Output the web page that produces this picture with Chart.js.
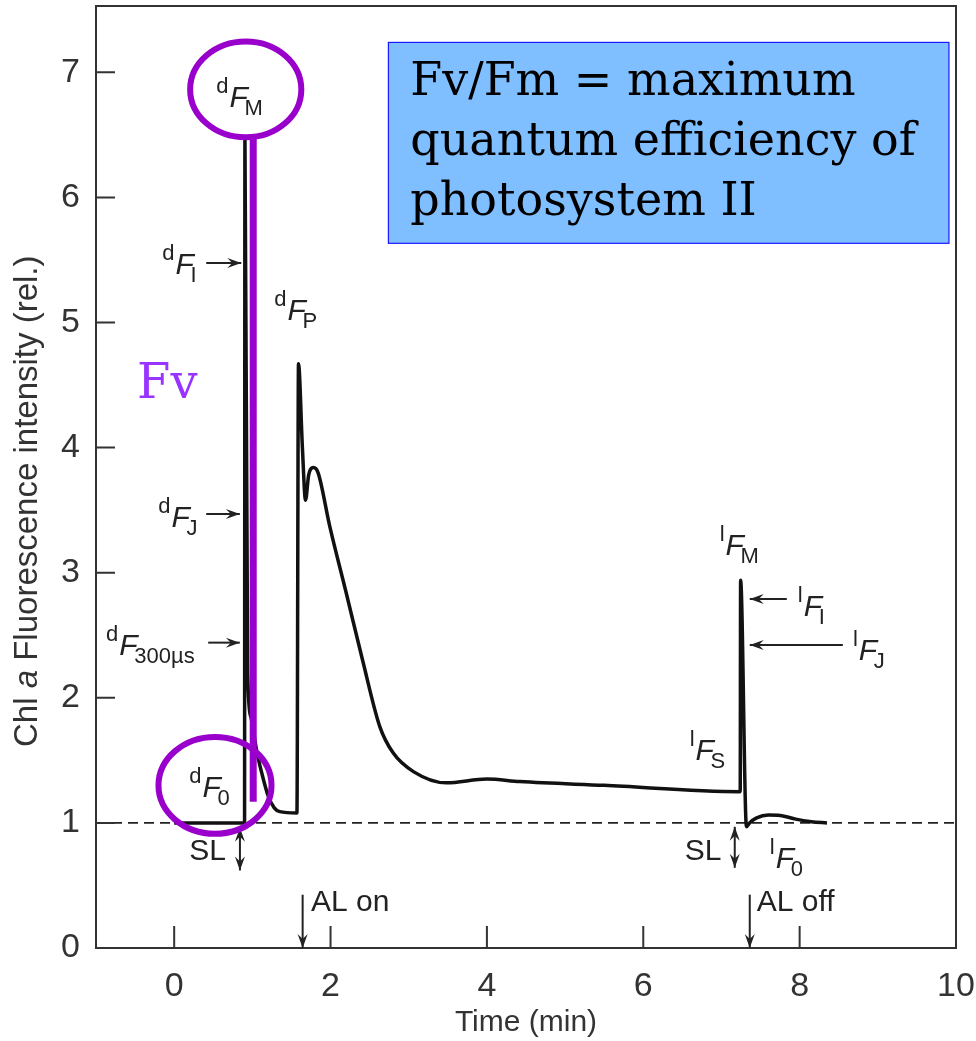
<!DOCTYPE html>
<html>
<head>
<meta charset="utf-8">
<script src="https://cdn.jsdelivr.net/npm/chart.js@4.4.1/dist/chart.umd.min.js"></script>
<style>
  html, body { margin: 0; padding: 0; background: #fff; }
  #wrap { width: 976px; height: 1041px; }
</style>
</head>
<body>
<div id="wrap"><canvas id="chart" width="976" height="1041"></canvas></div>
<script>
// --- DATA ---
const timeMin = [0, 0.90, 0.905, 0.94, 0.98, 1.06, 1.12, 1.20, 1.28, 1.35, 1.57,
  1.59, 1.64, 1.68, 1.72, 1.78, 1.84, 1.99, 2.20, 2.41, 2.63, 2.80, 3.06, 3.48,
  4.00, 4.42, 5.50, 7.24, 7.245, 7.32, 7.36, 7.45, 7.60, 7.75, 7.95, 8.15, 8.35];
const fluorRel = [1.00, 1.00, 6.48, 2.20, 1.85, 1.56, 1.40, 1.22, 1.12, 1.09, 1.08,
  4.67, 4.00, 3.58, 3.78, 3.84, 3.80, 3.37, 2.84, 2.30, 1.77, 1.56, 1.41, 1.32,
  1.35, 1.33, 1.30, 1.25, 2.94, 0.97, 1.00, 1.04, 1.063, 1.06, 1.03, 1.01, 1.00];
const baseTime = [-1, 10];
const baseLevel = [1, 1];
const xTickValues = [0, 2, 4, 6, 8, 10];
const yTickValues = [0, 1, 2, 3, 4, 5, 6, 7];

const SANS = '"Liberation Sans", Arial, sans-serif';
const SERIF = '"DejaVu Serif", serif';
const INK = '#222';
const PURPLE = '#9900cc';

function toPoints(xs, ys) {
  return xs.map((x, i) => ({ x: x, y: ys[i] }));
}

// label made of superscript + italic F + subscript
function fLabel(ctx, sup, sub, px, py) {
  ctx.fillStyle = INK;
  ctx.textAlign = 'left';
  ctx.textBaseline = 'alphabetic';
  ctx.font = '22px ' + SANS;
  ctx.fillText(sup, px, py - 14);
  const w = ctx.measureText(sup).width;
  ctx.font = 'italic 30px ' + SANS;
  ctx.fillText('F', px + w + 1, py);
  ctx.font = '22px ' + SANS;
  ctx.fillText(sub, px + w + 16, py + 8);
}

function arrow(ctx, x1, y1, x2, y2, both) {
  ctx.strokeStyle = INK;
  ctx.fillStyle = INK;
  ctx.lineWidth = 2;
  ctx.beginPath();
  ctx.moveTo(x1, y1);
  ctx.lineTo(x2, y2);
  ctx.stroke();
  const head = (ax, ay, bx, by) => {
    const a = Math.atan2(by - ay, bx - ax);
    const c = Math.cos(a), s = Math.sin(a);
    ctx.beginPath();
    ctx.moveTo(bx, by);
    ctx.lineTo(bx - 14 * c + 5 * s, by - 14 * s - 5 * c);
    ctx.lineTo(bx - 9 * c, by - 9 * s);
    ctx.lineTo(bx - 14 * c - 5 * s, by - 14 * s + 5 * c);
    ctx.closePath();
    ctx.fill();
  };
  head(x1, y1, x2, y2);
  if (both) head(x2, y2, x1, y1);
}

const decorations = {
  id: 'decorations',
  afterDraw(chart) {
    const ctx = chart.ctx;
    const area = chart.chartArea;
    const xs = chart.scales.x, ys = chart.scales.y;
    const X = v => xs.getPixelForValue(v);
    const Y = v => ys.getPixelForValue(v);
    ctx.save();

    // frame + inward ticks
    ctx.strokeStyle = '#333';
    ctx.lineWidth = 2;
    ctx.strokeRect(area.left, area.top, area.right - area.left, area.bottom - area.top);
    ctx.beginPath();
    xTickValues.forEach(v => { ctx.moveTo(X(v), area.bottom); ctx.lineTo(X(v), area.bottom - 22); });
    yTickValues.forEach(v => { ctx.moveTo(area.left, Y(v)); ctx.lineTo(area.left + 19, Y(v)); });
    ctx.stroke();

    // text labels with arrows
    fLabel(ctx, 'd', 'M', X(0.538), Y(6.72));
    fLabel(ctx, 'd', 'I', X(-0.154), Y(5.39));
    arrow(ctx, X(0.41), Y(5.476), X(0.858), Y(5.476));
    fLabel(ctx, 'd', 'J', X(-0.205), Y(3.367));
    arrow(ctx, X(0.41), Y(3.469), X(0.84), Y(3.469));
    fLabel(ctx, 'd', '300\u00b5s', X(-0.871), Y(2.343));
    arrow(ctx, X(0.435), Y(2.441), X(0.84), Y(2.441));
    fLabel(ctx, 'd', 'P', X(1.28), Y(5.02));
    fLabel(ctx, 'd', '0', X(0.192), Y(1.211));
    fLabel(ctx, 'l', 'M', X(6.978), Y(3.141));
    fLabel(ctx, 'l', 'I', X(7.977), Y(2.655));
    arrow(ctx, X(7.836), Y(2.79), X(7.362), Y(2.79));
    fLabel(ctx, 'l', 'J', X(8.681), Y(2.303));
    arrow(ctx, X(8.553), Y(2.423), X(7.362), Y(2.423));
    fLabel(ctx, 'l', 'S', X(6.594), Y(1.50));
    fLabel(ctx, 'l', '0', X(7.618), Y(0.641));

    ctx.font = '30px ' + SANS;
    ctx.fillStyle = INK;
    ctx.fillText('SL', X(0.192), Y(0.705));
    arrow(ctx, X(0.841), Y(0.961), X(0.841), Y(0.62), true);
    ctx.fillText('SL', X(6.53), Y(0.705));
    arrow(ctx, X(7.17), Y(0.969), X(7.17), Y(0.641), true);
    ctx.font = '30px ' + SANS;
    ctx.fillText('AL on', X(1.75), Y(0.292));
    arrow(ctx, X(1.643), Y(0.426), X(1.643), Y(0));
    ctx.fillText('AL off', X(7.452), Y(0.292));
    arrow(ctx, X(7.362), Y(0.426), X(7.362), Y(0));

    // purple overlay: ellipses + Fv bar
    ctx.strokeStyle = PURPLE;
    ctx.lineWidth = 6;
    ctx.beginPath();
    ctx.ellipse(X(0.915), Y(6.863), X(0.915) - X(0.204), Y(6.48) - Y(6.863), 0, 0, Math.PI * 2);
    ctx.stroke();
    ctx.beginPath();
    ctx.ellipse(X(0.522), Y(1.30), X(0.522) - X(-0.201), Y(0.913) - Y(1.30), 0, 0, Math.PI * 2);
    ctx.stroke();
    ctx.lineWidth = 7;
    ctx.beginPath();
    ctx.moveTo(X(1.011), Y(6.50));
    ctx.lineTo(X(1.011), Y(1.17));
    ctx.stroke();
    ctx.fillStyle = '#9933ff';
    ctx.font = '48px ' + SERIF;
    ctx.fillText('Fv', X(-0.474), Y(4.395));

    // info box
    const bx = X(2.74), by = Y(7.239), bw = X(9.91) - bx, bh = Y(5.633) - by;
    ctx.fillStyle = '#80bfff';
    ctx.fillRect(bx, by, bw, bh);
    ctx.strokeStyle = '#1a1aff';
    ctx.lineWidth = 1.2;
    ctx.strokeRect(bx, by, bw, bh);
    ctx.fillStyle = '#000';
    ctx.font = '46px ' + SERIF;
    ctx.fillText('Fv/Fm = maximum', X(3.02), Y(6.815));
    ctx.fillText('quantum efficiency of', X(3.02), Y(6.336));
    ctx.fillText('photosystem II', X(3.02), Y(5.856));

    // axis titles
    ctx.fillStyle = '#333';
    ctx.font = '30px ' + SANS;
    ctx.textAlign = 'center';
    ctx.fillText('Time (min)', (area.left + area.right) / 2, 1031);

    ctx.translate(37, 747);
    ctx.rotate(-Math.PI / 2);
    ctx.textAlign = 'left';
    const parts = [['Chl ', ''], ['a', 'italic '], [' Fluorescence intensity (rel.)', '']];
    let off = 0;
    parts.forEach(p => {
      ctx.font = p[1] + '33px ' + SANS;
      ctx.fillText(p[0], off, 0);
      off += ctx.measureText(p[0]).width;
    });
    ctx.restore();
  }
};

new Chart(document.getElementById('chart'), {
  type: 'line',
  data: {
    datasets: [
      {
        label: 'dark level',
        data: toPoints(baseTime, baseLevel),
        borderColor: INK,
        borderWidth: 1.7,
        borderDash: [10, 6],
        pointRadius: 0,
        order: 2
      },
      {
        label: 'Chl a fluorescence',
        data: toPoints(timeMin, fluorRel),
        borderColor: '#111',
        borderWidth: 3.5,
        pointRadius: 0,
        tension: 0,
        cubicInterpolationMode: 'monotone',
        order: 1
      }
    ]
  },
  options: {
    responsive: false,
    animation: false,
    layout: { padding: { top: 6, right: 20, left: 0, bottom: 0 } },
    plugins: { legend: { display: false }, tooltip: { enabled: false } },
    scales: {
      x: {
        type: 'linear',
        min: -1,
        max: 10,
        afterFit(s) { s.height = 93; s.paddingLeft = 0; s.paddingRight = 0; },
        afterBuildTicks(s) { s.ticks = xTickValues.map(v => ({ value: v })); },
        grid: { display: false, drawTicks: false },
        border: { display: false },
        ticks: { color: '#333', padding: 18, maxRotation: 0, font: { family: 'Liberation Sans', size: 34 } }
      },
      y: {
        type: 'linear',
        min: 0,
        max: 7.53,
        afterFit(s) { s.width = 96; s.paddingTop = 0; s.paddingBottom = 0; },
        afterBuildTicks(s) { s.ticks = yTickValues.map(v => ({ value: v })); },
        grid: { display: false, drawTicks: false },
        border: { display: false },
        ticks: { color: '#333', padding: 16, font: { family: 'Liberation Sans', size: 34 } }
      }
    }
  },
  plugins: [decorations]
});
</script>
</body>
</html>
